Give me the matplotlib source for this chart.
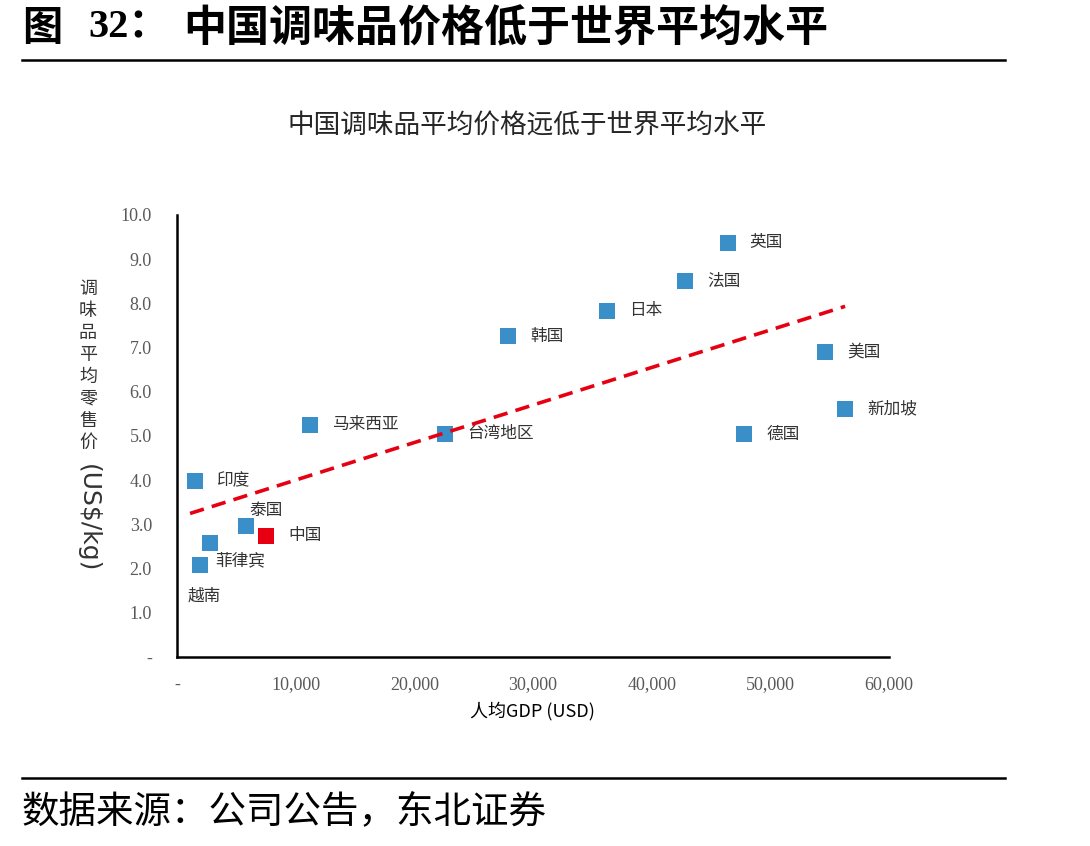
import numpy as np
import matplotlib
matplotlib.use("Agg")
import matplotlib.pyplot as plt

plt.rcParams['font.family'] = ['Noto Sans CJK SC', 'DejaVu Sans']

# ---- data ----
regions = ["英国", "法国", "日本", "韩国", "美国", "新加坡", "德国", "台湾地区",
           "马来西亚", "印度", "泰国", "中国", "菲律宾", "越南"]
gdp = [46400, 42800, 36200, 27900, 54600, 56300, 47800, 22600,
       11200, 1500, 5800, 7500, 2800, 1900]
price = [9.37, 8.51, 7.83, 7.26, 6.90, 5.61, 5.05, 5.05,
         5.25, 3.98, 2.96, 2.74, 2.58, 2.08]
highlight = "中国"
x_ticks = [0, 10000, 20000, 30000, 40000, 50000, 60000]
x_ticklabels = ["-", "10,000", "20,000", "30,000", "40,000", "50,000", "60,000"]
y_ticks = [0, 1, 2, 3, 4, 5, 6, 7, 8, 9, 10]
y_ticklabels = ["-", "1.0", "2.0", "3.0", "4.0", "5.0", "6.0", "7.0", "8.0", "9.0", "10.0"]

header_fig = "图"
header_num = "32："
header_text = "中国调味品价格低于世界平均水平"
title = "中国调味品平均价格远低于世界平均水平"
xlabel = "人均GDP (USD)"
ylabel_cjk = "调味品平均零售价"
ylabel_unit = "(US$/kg)"
source = "数据来源：公司公告，东北证券"

# label offsets in pixels (dx, dy, ha)
label_offsets = {
    "泰国": (4, 16, "left"),
    "菲律宾": (5, -18, "left"),
    "越南": (-12, -31, "left"),
}
default_offset = (22, 0, "left")

BLUE = "#3A8FC9"
RED = "#E60012"
TICK_GRAY = "#595959"

fig = plt.figure(figsize=(10.9, 8.46), dpi=100)

# header & footer
fig.text(22/1090, 1-28/846, header_fig, fontsize=29, fontweight='bold', ha='left', va='center', color='black')
fig.text(88/1090, 1-28/846, header_num, fontsize=29, fontweight='bold', ha='left', va='center', color='black',
         fontfamily=['Liberation Serif', 'Noto Sans CJK SC'])
fig.text(183/1090, 1-28/846, header_text, fontsize=31, fontweight='bold', ha='left', va='center', color='black')
fig.add_artist(plt.Line2D([22/1090, 1005/1090], [1-60/846, 1-60/846], color='black', lw=1.8))
fig.add_artist(plt.Line2D([22/1090, 1005/1090], [1-778/846, 1-778/846], color='black', lw=1.8))
fig.text(22/1090, 1-812/846, source, fontsize=27, ha='left', va='center', color='black')

# chart title
fig.text(527/1090, 1-125/846, title, fontsize=19.2, ha='center', va='center', color='#262626')

ax = fig.add_axes([177/1090, 1-657/846, (889-177)/1090, (657-215)/846])
ax.set_xlim(0, 60000)
ax.set_ylim(0, 10)
for s in ['top', 'right']:
    ax.spines[s].set_visible(False)
for s in ['left', 'bottom']:
    ax.spines[s].set_linewidth(1.8)
    ax.spines[s].set_color('black')
ax.tick_params(length=0)
ax.set_xticks(x_ticks)
ax.set_xticklabels(x_ticklabels, fontsize=13, color=TICK_GRAY, fontfamily='Liberation Serif')
ax.set_yticks(y_ticks)
ax.set_yticklabels(y_ticklabels, fontsize=13, color=TICK_GRAY, fontfamily='Liberation Serif')
ax.tick_params(axis='y', pad=18)
ax.tick_params(axis='x', pad=14)

# trend line (linear fit)
gx = np.array(gdp, dtype=float)
py = np.array(price, dtype=float)
k, b = np.polyfit(gx, py, 1)
tx = np.array([gx.min() - 400, gx.max()])
ax.plot(tx, k*tx + b, color=RED, lw=2.6, dashes=(4, 2.3), zorder=4, solid_capstyle='butt')

for name, x, y in zip(regions, gdp, price):
    c = RED if name == highlight else BLUE
    ax.plot([x], [y], marker='s', markersize=11.5, color=c, markeredgewidth=0, zorder=3)
    dx, dy, ha = label_offsets.get(name, default_offset)
    ax.annotate(name, (x, y), xytext=(dx, dy), textcoords='offset pixels',
                ha=ha, va='center', fontsize=12, color='#333333')

# axis labels
fig.text(532/1090, 1-711/846, xlabel, fontsize=13, ha='center', va='center', color='black')
fig.text(88/1090, 1-280/846, "\n".join(ylabel_cjk), fontsize=13, ha='center', va='top',
         color='#333333', linespacing=1.28)
fig.text(88/1090, 1-518/846, ylabel_unit, fontsize=18, ha='center', va='center',
         rotation=-90, color='#333333', fontfamily='DejaVu Sans')

fig.savefig("out.png", dpi=100)
